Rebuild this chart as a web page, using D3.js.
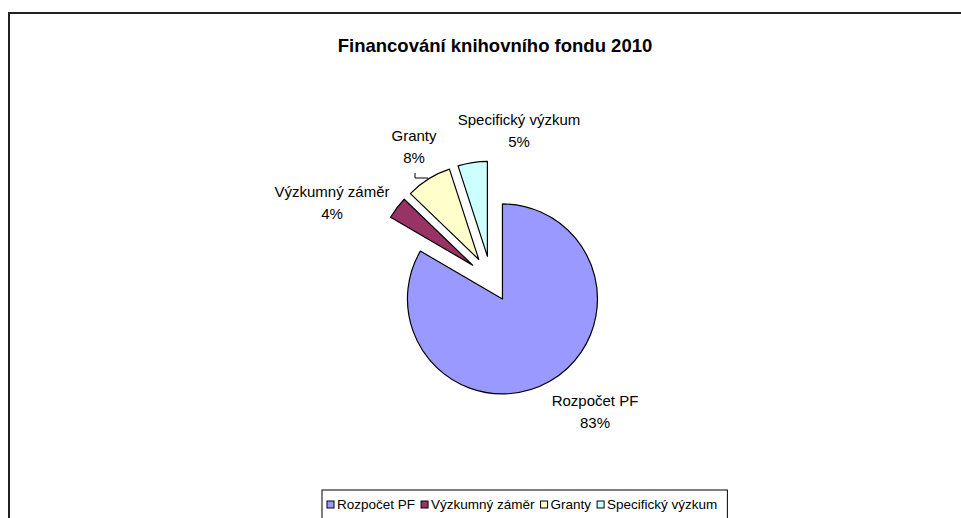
<!DOCTYPE html>
<html><head><meta charset="utf-8">
<script src="https://cdn.jsdelivr.net/npm/d3@7"></script>
<style>body{margin:0;background:#fff}svg{display:block}</style>
</head><body>
<svg id="c" width="961" height="518"></svg>
<script>
const title = "Financování knihovního fondu 2010";
const categories = ["Rozpočet PF", "Výzkumný záměr", "Granty", "Specifický výzkum"];
const values = [83.4, 3.8, 7.8, 5.0];
const colors = ["#9999FF", "#993366", "#FFFFCC", "#CCFFFF"];
// label offsets relative to pie center (layout)
const labelOffsets = [[104, 133], [-159, -76], [-77, -132], [28, -148]];

const svg = d3.select("#c");
const font = "Liberation Sans, Arial, sans-serif";
const W = 961, H = 518;
const cx = 491, cy = 279, R = 95, explode = 23;

svg.append("rect").attr("x", 9).attr("y", 13).attr("width", W + 20).attr("height", H + 20)
  .attr("fill", "#fff").attr("stroke", "#222").attr("stroke-width", 2);

svg.append("text").attr("x", 495).attr("y", 52).attr("text-anchor", "middle")
  .attr("font-family", font).attr("font-weight", "bold").attr("font-size", 18.5)
  .text(title);

const total = d3.sum(values);
const pie = d3.pie().sort(null).value(d => d)(values);
const arc = d3.arc().innerRadius(0).outerRadius(R);
const g = svg.append("g").attr("transform", `translate(${cx},${cy})`);
g.selectAll("path").data(pie).join("path")
  .attr("d", arc)
  .attr("transform", d => {
    const a = (d.startAngle + d.endAngle) / 2;
    return `translate(${explode * Math.sin(a)},${-explode * Math.cos(a)})`;
  })
  .attr("fill", (d, i) => colors[i]).attr("stroke", "#000").attr("stroke-width", 1.2)
  .attr("stroke-linejoin", "round");

const lab = g.selectAll("text.lab").data(pie).join("text").attr("class", "lab")
  .attr("font-family", font).attr("font-size", 15).attr("fill", "#000")
  .attr("text-anchor", "middle");
lab.append("tspan").attr("x", (d, i) => labelOffsets[i][0]).attr("y", (d, i) => labelOffsets[i][1] - 6)
  .text((d, i) => categories[i]);
lab.append("tspan").attr("x", (d, i) => labelOffsets[i][0]).attr("y", (d, i) => labelOffsets[i][1] + 16)
  .text(d => Math.round(d.value / total * 100) + "%");

// leader line for Granty
g.append("path").attr("d", "M-76,-106V-101H-63").attr("fill", "none").attr("stroke", "#000").attr("stroke-width", 1);

// legend
const lg = svg.append("g");
const fs = 13.5;
const items = [];
let x = 327;
const tmp = svg.append("text").attr("font-family", font).attr("font-size", fs);
categories.forEach((c, i) => {
  tmp.text(c);
  const w = tmp.node().getComputedTextLength();
  items.push({x, c, i});
  x += 10 + w + 6;
});
tmp.remove();
const lx0 = 322, lx1 = x + 4;
lg.append("rect").attr("x", lx0).attr("y", 490).attr("width", lx1 - lx0).attr("height", 40)
  .attr("fill", "#fff").attr("stroke", "#000").attr("stroke-width", 1);
items.forEach(it => {
  lg.append("rect").attr("x", it.x).attr("y", 501).attr("width", 7).attr("height", 7)
    .attr("fill", colors[it.i]).attr("stroke", "#000").attr("stroke-width", 1);
  lg.append("text").attr("x", it.x + 10).attr("y", 509).attr("font-family", font).attr("font-size", fs).text(it.c);
});
</script>
</body></html>
